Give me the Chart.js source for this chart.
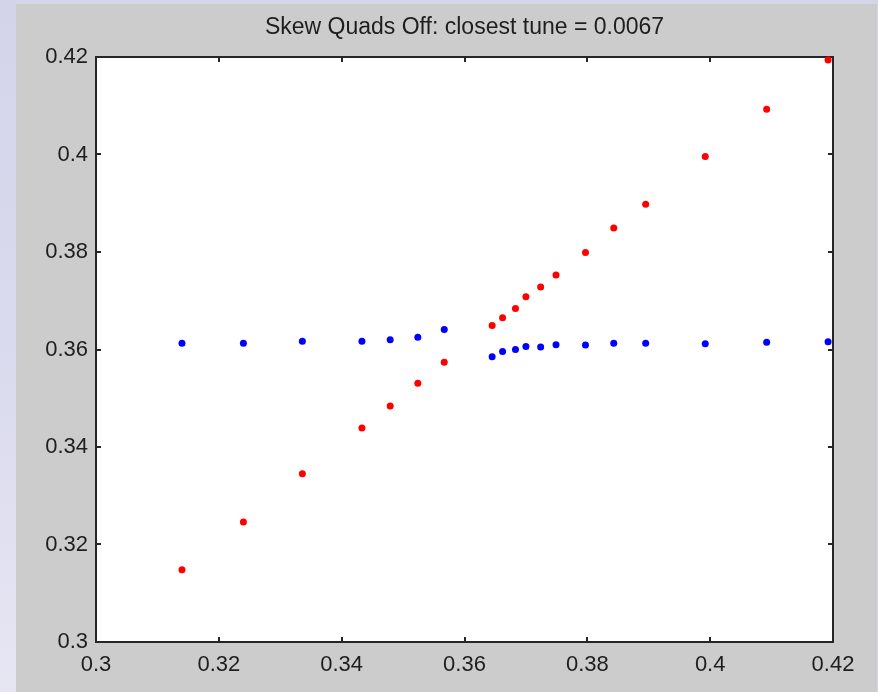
<!DOCTYPE html>
<html>
<head>
<meta charset="utf-8">
<title>Skew Quads Off</title>
<script src="https://cdn.jsdelivr.net/npm/chart.js@4/dist/chart.umd.min.js"></script>
<style>
  html, body { margin: 0; padding: 0; background: #d5d5ea; overflow: hidden; }
  #wrap { width: 878px; height: 692px; }
</style>
</head>
<body>
<div id="wrap"><canvas id="c" width="878" height="692"></canvas></div>
<script>
// Horizontal tune scan values (shared by both eigen-tunes)
const tuneX = [0.3140, 0.3240, 0.3336, 0.3433, 0.3479, 0.3524, 0.3567,
               0.3645, 0.3662, 0.3683, 0.3700, 0.3724, 0.3749, 0.3797,
               0.3843, 0.3895, 0.3992, 0.4092, 0.4192];
// Measured mode 1 (red)
const modeRed = [0.3148, 0.3246, 0.3345, 0.3439, 0.3484, 0.3531, 0.3574,
                 0.3649, 0.3665, 0.3684, 0.3708, 0.3728, 0.3753, 0.3799,
                 0.3849, 0.3898, 0.3996, 0.4093, 0.4194];
// Measured mode 2 (blue)
const modeBlue = [0.3613, 0.3613, 0.3617, 0.3617, 0.3620, 0.3625, 0.3641,
                  0.3585, 0.3596, 0.3600, 0.3606, 0.3605, 0.3610, 0.3609,
                  0.3613, 0.3613, 0.3612, 0.3615, 0.3616];
const tickValues = [0.30, 0.32, 0.34, 0.36, 0.38, 0.40, 0.42];
const tickLabels = ['0.3', '0.32', '0.34', '0.36', '0.38', '0.4', '0.42'];
const titleText = 'Skew Quads Off: closest tune = 0.0067';

const toPoints = ys => tuneX.map((x, i) => ({ x: x, y: ys[i] }));
const fontFamily = '"Liberation Sans", Arial, sans-serif';

// Window backdrop, grey figure panel and white axes area
const backdrop = {
  id: 'backdrop',
  beforeDraw(chart) {
    const ctx = chart.ctx, a = chart.chartArea;
    ctx.save();
    ctx.fillStyle = '#d5d5ea';
    ctx.fillRect(0, 0, chart.width, chart.height);
    const g = ctx.createLinearGradient(0, 0, 0, chart.height);
    g.addColorStop(0, '#d3d3ea');
    g.addColorStop(0.6, '#dcdcef');
    g.addColorStop(1, '#e6e6f3');
    ctx.fillStyle = g;
    ctx.fillRect(0, 0, 16, chart.height);
    ctx.fillStyle = '#cccccc';
    ctx.fillRect(16, 4, chart.width - 17, chart.height - 4);
    ctx.fillStyle = '#ffffff';
    ctx.fillRect(a.left, a.top, a.right - a.left, a.bottom - a.top);
    ctx.restore();
  }
};

// Boxed axes with inward tick marks on all four sides, title centred over the axes
const boxAxes = {
  id: 'boxAxes',
  beforeDatasetsDraw(chart) {
    const ctx = chart.ctx, a = chart.chartArea;
    const xs = chart.scales.x, ys = chart.scales.y;
    const len = 5;
    ctx.save();
    ctx.strokeStyle = '#262626';
    ctx.lineWidth = 2;
    ctx.beginPath();
    tickValues.forEach(v => {
      const px = Math.round(xs.getPixelForValue(v));
      ctx.moveTo(px, a.bottom); ctx.lineTo(px, a.bottom - len);
      ctx.moveTo(px, a.top); ctx.lineTo(px, a.top + len);
      const py = Math.round(ys.getPixelForValue(v));
      ctx.moveTo(a.left, py); ctx.lineTo(a.left + len, py);
      ctx.moveTo(a.right, py); ctx.lineTo(a.right - len, py);
    });
    ctx.stroke();
    ctx.strokeRect(a.left, a.top, a.right - a.left, a.bottom - a.top);

    ctx.fillStyle = '#1e1e1e';
    ctx.font = '23px ' + fontFamily;
    ctx.textAlign = 'center';
    ctx.textBaseline = 'middle';
    ctx.fillText(titleText, (a.left + a.right) / 2, a.top - 29);
    ctx.restore();
  }
};

const tickFont = { family: fontFamily, size: 22 };

const axisCommon = {
  type: 'linear',
  min: 0.3,
  max: 0.42,
  grid: { display: false, drawTicks: false },
  border: { display: false },
  afterBuildTicks(scale) {
    scale.ticks = tickValues.map(v => ({ value: v }));
  },
  ticks: {
    autoSkip: false,
    maxRotation: 0,
    color: '#1e1e1e',
    font: tickFont,
    callback(value) {
      const i = tickValues.findIndex(t => Math.abs(t - value) < 1e-9);
      return i >= 0 ? tickLabels[i] : '';
    }
  }
};

new Chart(document.getElementById('c'), {
  type: 'scatter',
  data: {
    datasets: [
      {
        label: 'mode 1',
        data: toPoints(modeRed),
        backgroundColor: '#ff0000',
        borderWidth: 0,
        pointRadius: 3.5,
        pointHoverRadius: 3.5,
        clip: false
      },
      {
        label: 'mode 2',
        data: toPoints(modeBlue),
        backgroundColor: '#0000ff',
        borderWidth: 0,
        pointRadius: 3.5,
        pointHoverRadius: 3.5,
        clip: false
      }
    ]
  },
  options: {
    responsive: false,
    animation: false,
    devicePixelRatio: 1,
    layout: { padding: { left: 0, right: 45, top: 57, bottom: 0 } },
    plugins: {
      legend: { display: false },
      tooltip: { enabled: false },
      title: { display: false }
    },
    scales: {
      x: Object.assign({}, axisCommon, {
        position: 'bottom',
        ticks: Object.assign({}, axisCommon.ticks, { padding: 10 }),
        afterFit(scale) { scale.height = 50; }
      }),
      y: Object.assign({}, axisCommon, {
        position: 'left',
        ticks: Object.assign({}, axisCommon.ticks, { padding: 8 }),
        afterFit(scale) { scale.width = 96; }
      })
    }
  },
  plugins: [backdrop, boxAxes]
});
</script>
</body>
</html>
